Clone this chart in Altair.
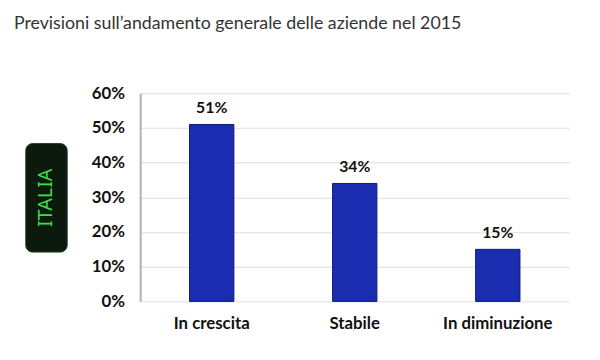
import altair as alt
import pandas as pd

categories = ["In crescita", "Stabile", "In diminuzione"]
values = [51, 34, 15]
tick_values = [0, 10, 20, 30, 40, 50, 60]
title_text = "Previsioni sull\u2019andamento generale delle aziende nel 2015"
side_label = "ITALIA"

df = pd.DataFrame({"cat": categories, "val": values})
one = pd.DataFrame({"k": [0]})

FONT = "Lato"

x_enc = alt.X("cat:N", sort=categories,
              scale=alt.Scale(paddingInner=0.69, paddingOuter=0.345),
              axis=alt.Axis(title=None, labelAngle=0, labelFontSize=17, labelFontWeight="bold",
                            labelColor="#111111", labelFont=FONT, labelPadding=14,
                            ticks=False, domain=False, grid=False))
y_enc = alt.Y("val:Q", scale=alt.Scale(domain=[0, 60]),
              axis=alt.Axis(title=None, values=tick_values,
                            labelExpr="datum.value + '%'", labelFontSize=17,
                            labelFontWeight="bold", labelColor="#111111", labelFont=FONT,
                            labelPadding=16, labelOverlap=False, ticks=False, domain=True,
                            domainColor="#b0b0b0", domainWidth=2, gridColor="#dcdcdc",
                            gridWidth=1, grid=True))

bars = alt.Chart(df).mark_bar(color="#1a2db0", stroke="#0c1a7a", strokeWidth=1).encode(
    x=x_enc, y=y_enc)

labels = alt.Chart(df).transform_calculate(lab="datum.val + '%'").mark_text(
    baseline="bottom", dy=-9, fontSize=16, fontWeight="bold", font=FONT,
    color="#111111").encode(x=x_enc, y=y_enc, text="lab:N")

box = alt.Chart(one).mark_rect(color="#0b1a0c", cornerRadius=7, stroke="#26402a",
                               strokeWidth=1).encode(
    x=alt.value(-116), x2=alt.value(-74), y=alt.value(51), y2=alt.value(161))

box_text = alt.Chart(one).mark_text(angle=270, fontSize=20, font="Noto Sans",
                                    color="#3ddc4a", align="center", baseline="middle").encode(
    x=alt.value(-95), y=alt.value(106), text=alt.value(side_label))

chart = alt.layer(bars, labels, box, box_text).properties(
    width=435, height=211,
    background="white",
    autosize=alt.AutoSizeParams(type="none"),
    padding={"left": 134, "top": 84, "right": 23, "bottom": 57},
    title=alt.Title(title_text, anchor="start", frame="group", dx=-128, offset=52,
                    fontSize=18, font=FONT, fontWeight="normal", color="#333333"),
).configure_view(stroke=None, strokeOpacity=0)

chart.save("out.html", embed_options={"renderer": "svg", "actions": False})
